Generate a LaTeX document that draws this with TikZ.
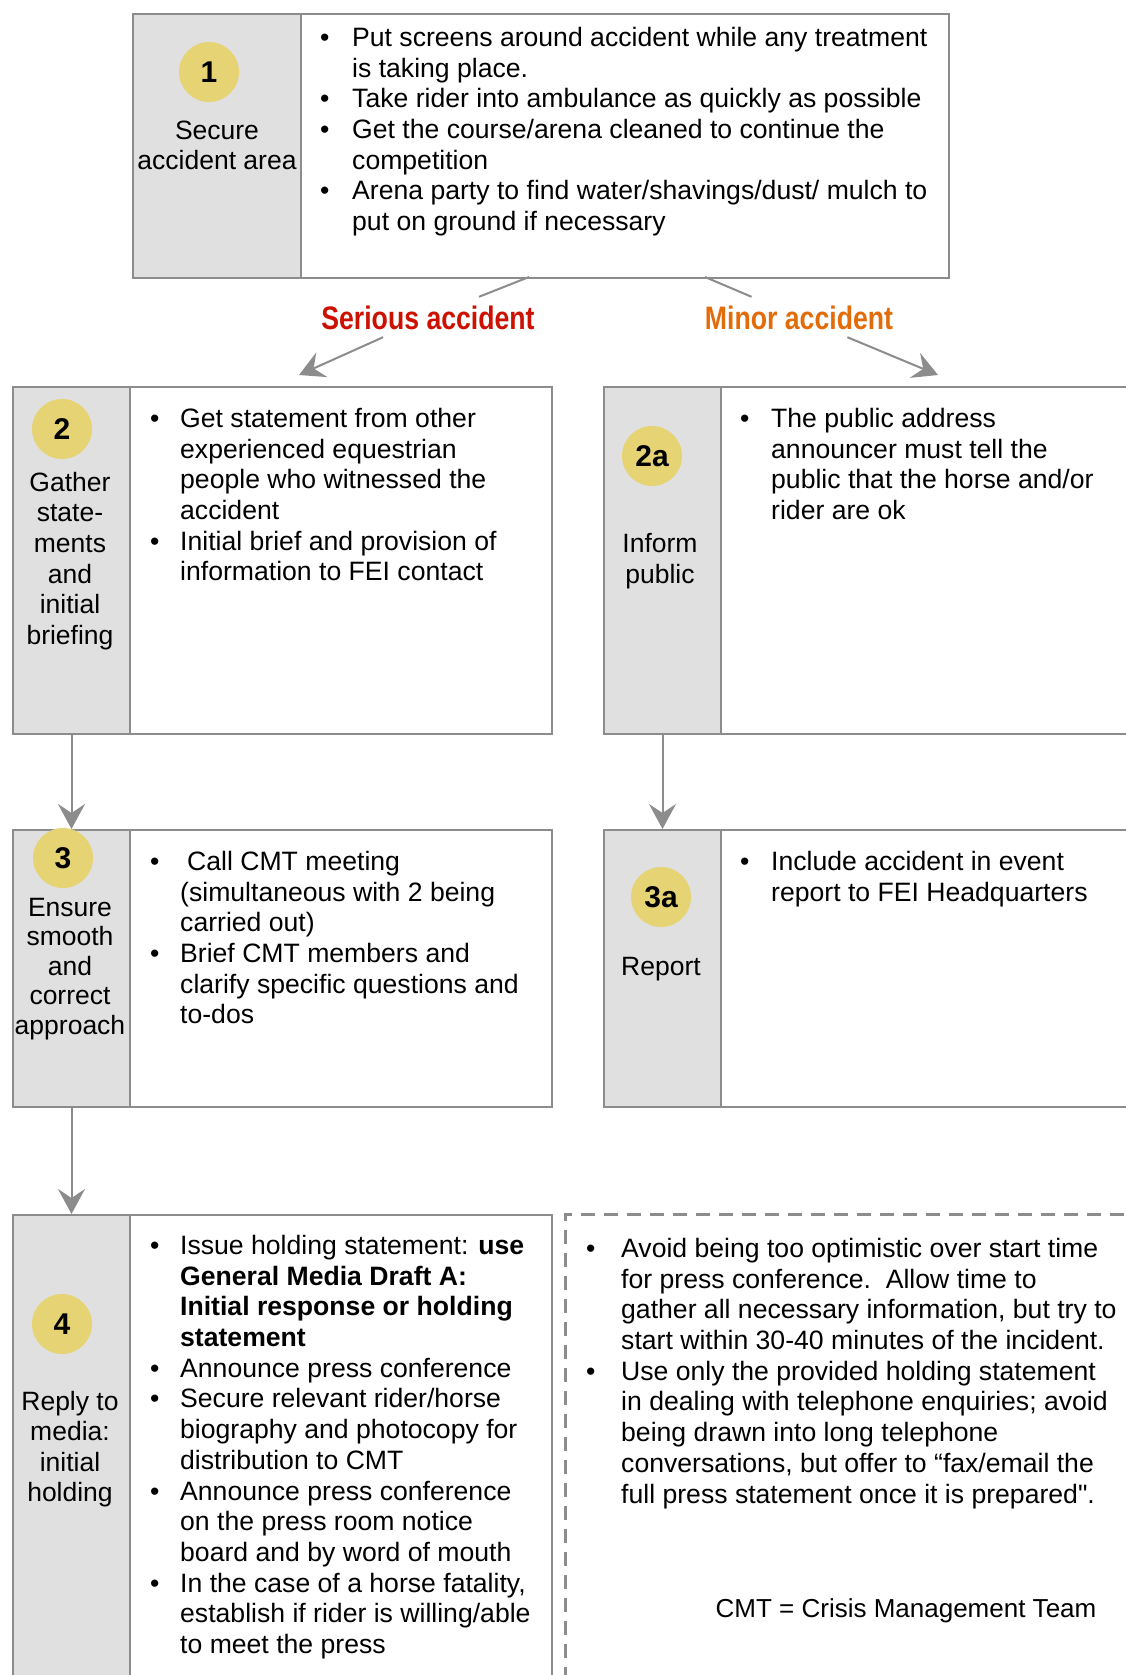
\documentclass[tikz,border=0pt]{standalone}
\usepackage{fontspec}
\setmainfont{Liberation Sans}
\newfontfamily\narrowfont[FakeStretch=0.82]{Liberation Sans}
\newfontfamily\plainfont{Liberation Sans}
\usetikzlibrary{arrows.meta,positioning}

\definecolor{sidegray}{HTML}{E0E0E0}
\definecolor{linegray}{HTML}{8C8C8C}
\definecolor{circyellow}{HTML}{E6D474}
\definecolor{seriousred}{HTML}{CC1100}
\definecolor{minororange}{HTML}{E36C0A}

\newlength\bind
\newcommand\bl{\makebox[\bind][l]{\textbullet}}
\newcommand\ind{\hspace*{\bind}}

\begin{document}
\begin{tikzpicture}[x=1pt, y=-1pt,
  side/.style={draw=linegray, line width=2pt, fill=sidegray, anchor=north west, inner sep=0pt},
  body/.style={draw=linegray, line width=2pt, fill=white, anchor=north west, inner sep=0pt},
  note/.style={draw=linegray, line width=2.5pt, dash pattern=on 14pt off 9pt, anchor=north west, inner sep=0pt},
  num/.style={circle, fill=circyellow, minimum size=60pt, inner sep=0pt, font=\fontsize{30}{30}\selectfont\bfseries},
  sidetext/.style={align=center, inner sep=0pt, font=\fontsize{26.5}{30.7}\selectfont},
  list/.style={align=left, anchor=north west, inner sep=0pt, font=\fontsize{26.6}{30.7}\selectfont},
  bw/.code={\setlength\bind{#1}},
  branch/.style={font=\narrowfont\fontsize{32.5}{33}\selectfont\bfseries, text height=24pt, text depth=0pt, inner ysep=8pt, inner xsep=4pt},
  conn/.style={draw=linegray, line width=2pt},
  tip/.style={-{Stealth[length=25pt, width=27pt, inset=9pt]}}]
\clip (0,0) rectangle (1126,1675);

% Step 1
\node[side, minimum width=168pt, minimum height=264pt] (s1) at (132,13) {};
\node[body, minimum width=648pt, minimum height=264pt] (b1) at (300,13) {};
\node[num] (n1) at (209,72) {1};
\node[sidetext, font=\fontsize{26.5}{30}\selectfont] (t1) at (217,145) {Secure\\accident area};
\node[list, bw=32pt] (l1) at (320,27) {\bl Put screens around accident while any treatment\\
  \ind is taking place.\\
  \bl Take rider into ambulance as quickly as possible\\
  \bl Get the course/arena cleaned to continue the\\
  \ind competition\\
  \bl Arena party to find water/shavings/dust/ mulch to\\
  \ind put on ground if necessary};

% Branches
\coordinate (sa) at (529,277);
\coordinate (sb) at (299,375);
\coordinate (ma) at (705,277);
\coordinate (mb) at (938,375);
\node[branch, text=seriousred] (serious) at (428,317) {Serious accident};
\node[branch, text=minororange] (minor) at (799,317) {Minor accident};
\draw[conn] (sa) -- (serious);
\draw[conn, tip] (serious) -- (sb);
\draw[conn] (ma) -- (minor);
\draw[conn, tip] (minor) -- (mb);

% Step 2
\node[side, minimum width=117pt, minimum height=347pt] (s2) at (12,386) {};
\node[body, minimum width=422pt, minimum height=347pt] (b2) at (129,386) {};
\node[num] (n2) at (62,429) {2};
\node[sidetext] (t2) at (70,561) {Gather\\state-\\ments\\and\\initial\\briefing};
\node[list, bw=30pt] (l2) at (150,408) {\bl Get statement from other\\
  \ind experienced equestrian\\
  \ind people who witnessed the\\
  \ind accident\\
  \bl Initial brief and provision of\\
  \ind information to FEI contact};

% Step 2a
\node[side, minimum width=117pt, minimum height=347pt] (s2a) at (603,386) {};
\node[body, minimum width=430pt, minimum height=347pt] (b2a) at (720,386) {};
\node[num] (n2a) at (652,456) {2a};
\node[sidetext] (t2a) at (660,561) {Inform\\public};
\node[list, bw=31pt] (l2a) at (740,408) {\bl The public address\\
  \ind announcer must tell the\\
  \ind public that the horse and/or\\
  \ind rider are ok};

% Step 3
\node[side, minimum width=117pt, minimum height=277pt] (s3) at (12,829) {};
\node[body, minimum width=422pt, minimum height=277pt] (b3) at (129,829) {};
\node[num] (n3) at (63,858) {3};
\node[sidetext, font=\fontsize{26.5}{29.4}\selectfont] (t3) at (70,969) {Ensure\\smooth\\and\\correct\\approach};
\node[list, bw=30pt] (l3) at (150,851) {\bl\hspace{7pt}Call CMT meeting\\
  \ind (simultaneous with 2 being\\
  \ind carried out)\\
  \bl Brief CMT members and\\
  \ind clarify specific questions and\\
  \ind to-dos};

% Step 3a
\node[side, minimum width=117pt, minimum height=277pt] (s3a) at (603,829) {};
\node[body, minimum width=430pt, minimum height=277pt] (b3a) at (720,829) {};
\node[num] (n3a) at (661,897) {3a};
\node[sidetext] (t3a) at (661,969) {Report};
\node[list, bw=31pt] (l3a) at (740,851) {\bl Include accident in event\\
  \ind report to FEI Headquarters};

% Step 4
\node[side, minimum width=117pt, minimum height=480pt] (s4) at (12,1214) {};
\node[body, minimum width=422pt, minimum height=480pt] (b4) at (129,1214) {};
\node[num] (n4) at (62,1324) {4};
\node[sidetext, font=\fontsize{26.5}{30.4}\selectfont] (t4) at (70,1449) {Reply to\\media:\\initial\\holding};
\node[list, bw=30pt] (l4) at (150,1235) {\bl Issue holding statement: \textbf{use}\\
  \ind\textbf{General Media Draft A:}\\
  \ind\textbf{Initial response or holding}\\
  \ind\textbf{statement}\\
  \bl Announce press conference\\
  \bl Secure relevant rider/horse\\
  \ind biography and photocopy for\\
  \ind distribution to CMT\\
  \bl Announce press conference\\
  \ind on the press room notice\\
  \ind board and by word of mouth\\
  \bl In the case of a horse fatality,\\
  \ind establish if rider is willing/able\\
  \ind to meet the press};

% Notes
\node[note, minimum width=580pt, minimum height=480pt] (nb) at (564,1213) {};
\node[list, bw=35pt] (ln) at (586,1238) {\bl Avoid being too optimistic over start time\\
  \ind for press conference.\ \ Allow time to\\
  \ind gather all necessary information, but try to\\
  \ind start within 30-40 minutes of the incident.\\
  \bl Use only the provided holding statement\\
  \ind in dealing with telephone enquiries; avoid\\
  \ind being drawn into long telephone\\
  \ind conversations, but offer to “fax/email the\\
  \ind full press statement once it is prepared{\plainfont"}.};
\node[sidetext, font=\fontsize{26}{30}\selectfont] (cmt) at (906,1611) {CMT = Crisis Management Team};

% Flow
\draw[conn, tip] (s2.south) -- (s3.north);
\draw[conn, tip] (s2a.south) -- (s3a.north);
\draw[conn, tip] (s3.south) -- (s4.north);
\end{tikzpicture}
\end{document}
